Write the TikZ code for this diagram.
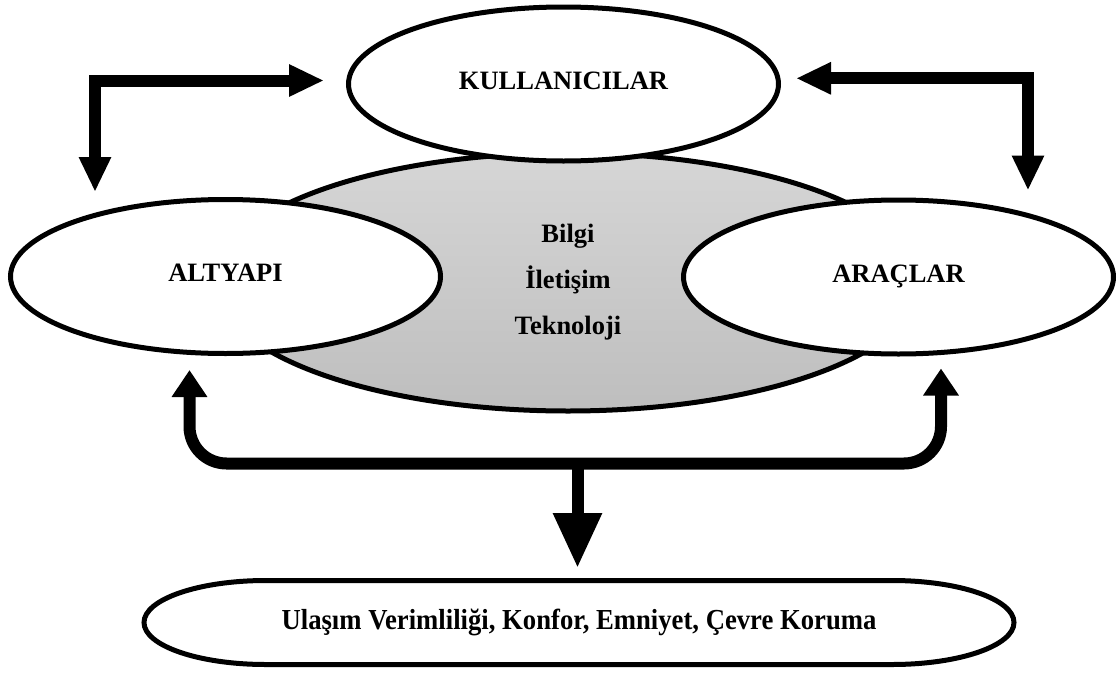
\documentclass[tikz,border=0pt]{standalone}
\usepackage{fontspec}
\setmainfont{Liberation Serif}
\usepackage{graphicx}
\usetikzlibrary{shapes.geometric,arrows.meta,calc}

\definecolor{hubtop}{RGB}{214,214,214}
\definecolor{hubbot}{RGB}{190,190,190}

\tikzset{
  outline/.style={draw=black, line width=5pt},
  bubble/.style={ellipse, outline, fill=white, minimum width=430pt, minimum height=154pt,
    inner sep=0pt, text height=18pt, text depth=7.4pt,
    font=\bfseries\fontsize{26.5}{30}\selectfont},
  hub/.style={ellipse, outline, top color=hubtop, bottom color=hubbot,
    minimum width=706pt, minimum height=258pt, inner sep=0pt, align=center,
    font=\bfseries\fontsize{26.5}{46}\selectfont},
  goalbox/.style={minimum width=875pt, minimum height=89pt, inner sep=0pt, outer sep=0pt,
    font=\bfseries\fontsize{29}{34}\selectfont},
  shaft/.style={line width=12pt, line join=miter, draw=black},
  toptips/.style={shaft, {Triangle[width=30pt,length=35pt]}-{Triangle[width=30pt,length=35pt]}},
  bottips/.style={shaft, rounded corners=37pt, {Triangle[width=34pt,length=27pt]}-{Triangle[width=34pt,length=27pt]}},
  downtip/.style={shaft, -{Triangle[width=46pt,length=55pt]}}
}

\begin{document}
\begin{tikzpicture}[x=1pt,y=-1pt]
\useasboundingbox (0,0) rectangle (1120,675);

% central technology hub and the three actors around it
\node[hub] (ict) at (568,282) {Bilgi\\İletişim\\Teknoloji};
\node[bubble] (alt) at (225.5,276.5) {ALTYAPI};
\node[bubble] (arac) at (898.5,277) {ARAÇLAR};
\node[bubble] (kull) at (563.5,84) {KULLANICILAR};

% outcome box with elliptical ends
\node[goalbox] (goal) at (579,622.5) {\scalebox{0.92}[1]{Ulaşım Verimliliği, Konfor, Emniyet, Çevre Koruma}};
\draw[outline] ([xshift=124.5pt,yshift=-2.5pt]goal.north west)
  -- ([xshift=-124.5pt,yshift=-2.5pt]goal.north east)
  arc[start angle=90,end angle=-90,x radius=122pt,y radius=42pt]
  -- ([xshift=124.5pt,yshift=2.5pt]goal.south west)
  arc[start angle=270,end angle=90,x radius=122pt,y radius=42pt]
  -- cycle;

% elbow points of the connectors
\coordinate (tl) at (95,80.5);
\coordinate (tr) at (1028,78.3);
\coordinate (bl) at (189.5,463.5);
\coordinate (br) at (941,463.5);
\coordinate (bm) at (577.5,463.5);

% users <-> infrastructure / vehicles
\draw[toptips] ($(kull.west |- tl)+(-22,0)$) -- (tl) -- ($(tl |- alt.north)+(0,-5)$);
\draw[toptips] ($(kull.east |- tr)+(15,0)$) -- (tr) -- ($(tr |- arac.north)+(0,-7)$);

% infrastructure <-> vehicles and the resulting benefits
\draw[bottips] ($(bl |- alt.south)+(0,14)$) -- (bl) -- (br) -- ($(br |- arac.south)+(0,12)$);
\draw[downtip] (bm) -- ($(bm |- goal.north)+(0,-10)$);
\end{tikzpicture}
\end{document}
